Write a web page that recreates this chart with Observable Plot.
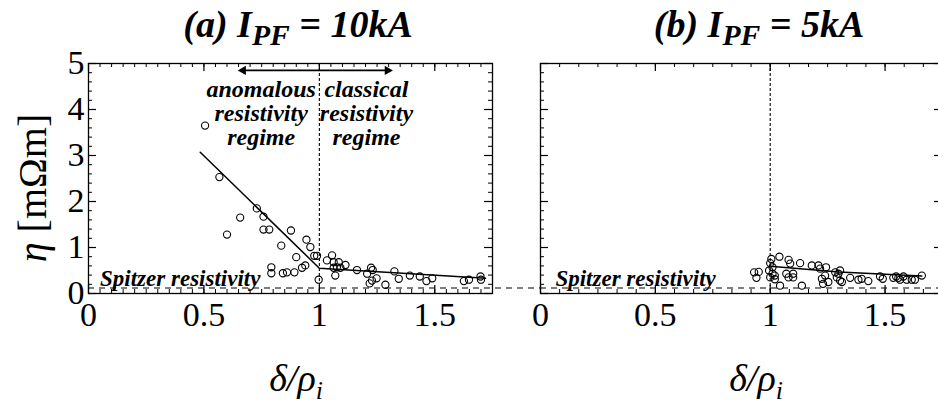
<!DOCTYPE html>
<html><head><meta charset="utf-8">
<script src="https://cdn.jsdelivr.net/npm/d3@7"></script>
<script src="https://cdn.jsdelivr.net/npm/@observablehq/plot@0.6"></script>
<style>
html,body{margin:0;padding:0;background:#fff;}
body{width:938px;height:403px;overflow:hidden;position:relative;font-family:"Liberation Serif","Times New Roman",serif;color:#000;}
.title{position:absolute;top:1px;width:400px;text-align:center;font-size:38px;line-height:46px;font-weight:bold;font-style:italic;white-space:nowrap;}
.title sub{font-size:78%;vertical-align:-0.28em;line-height:0;}
.xlab{position:absolute;top:358px;width:200px;text-align:center;font-size:38px;line-height:40px;font-style:italic;white-space:nowrap;}
.xlab sub{font-size:68%;vertical-align:-0.3em;line-height:0;}
.ylab{position:absolute;left:-92px;top:166px;width:250px;height:44px;text-align:center;font-size:40px;line-height:44px;transform:rotate(-90deg);transform-origin:50% 50%;white-space:nowrap;}
#pa{position:absolute;left:0;top:50px;width:540px;height:300px;}
#pb{position:absolute;left:538px;top:50px;width:410px;height:300px;}
#pa svg,#pb svg{max-width:none !important;display:block;}
</style></head>
<body>
<div class="title" style="left:98px">(a) I<sub>PF</sub> = 10kA</div>
<div class="title" style="left:559px">(b) I<sub>PF</sub> = 5kA</div>
<div class="ylab"><i>η</i> [mΩm]</div>
<div id="pa"></div>
<div id="pb"></div>
<div class="xlab" style="left:196px">δ/ρ<sub>i</sub></div>
<div class="xlab" style="left:656px">δ/ρ<sub>i</sub></div>
<script>
// ---- data: panel (a) I_PF = 10 kA ----
const deltaA = [0.505,0.567,0.600,0.657,0.729,0.758,0.758,0.783,0.835,0.877,0.900,0.944,0.961,0.978,0.990,0.939,0.925,0.792,0.792,0.842,0.860,0.892,0.997,1.033,1.055,1.062,1.084,1.113,1.062,1.076,1.091,1.069,1.163,1.207,1.224,1.231,1.248,1.228,1.218,1.286,1.325,1.344,1.392,1.435,1.464,1.489,1.626,1.648,1.698,1.700];
const etaA   = [3.65,2.53,1.28,1.65,1.85,1.67,1.39,1.39,1.04,1.37,0.79,1.17,1.01,0.82,0.82,0.61,0.56,0.57,0.44,0.44,0.46,0.46,0.30,0.72,0.83,0.68,0.68,0.62,0.56,0.57,0.56,0.39,0.51,0.43,0.56,0.51,0.33,0.28,0.22,0.19,0.48,0.32,0.39,0.37,0.27,0.33,0.27,0.30,0.37,0.30];
const fitDeltaA = [0.484, 1.0, 1.72];
const fitEtaA   = [3.07, 0.55, 0.33];

// ---- data: panel (b) I_PF = 5 kA ----
const deltaB = [0.930,0.950,0.940,1.005,1.000,1.010,0.995,1.010,1.000,1.020,1.040,1.043,1.020,1.080,1.087,1.070,1.100,1.100,1.080,1.138,1.130,1.181,1.210,1.217,1.243,1.225,1.230,1.253,1.239,1.283,1.297,1.304,1.290,1.304,1.312,1.348,1.384,1.398,1.427,1.478,1.490,1.536,1.548,1.558,1.580,1.594,1.616,1.565,1.660,1.630];
const etaB   = [0.46,0.47,0.34,0.75,0.66,0.57,0.50,0.43,0.35,0.39,0.80,0.17,0.31,0.73,0.65,0.43,0.43,0.35,0.35,0.17,0.66,0.61,0.61,0.54,0.57,0.32,0.21,0.25,0.39,0.46,0.43,0.50,0.35,0.28,0.25,0.34,0.30,0.32,0.27,0.37,0.32,0.34,0.37,0.34,0.37,0.30,0.30,0.30,0.39,0.30];
const fitDeltaB = [1.0, 1.3, 1.66];
const fitEtaB   = [0.59, 0.47, 0.38];

// ---- reference lines & labels ----
const spitzerEta = 0.12;
const regimeBoundary = 1.0;
const xTicks = [0, 0.5, 1, 1.5];
const yTicks = [0, 1, 2, 3, 4, 5];
const yMinor = d3.range(0, 5.001, 0.2);
const xMinorA = d3.range(0, 1.751, 0.05);
const xMinorB = d3.range(0, 1.751, 1/12);
const regimeText = ["anomalous\nresistivity\nregime", "classical\nresistivity\nregime"];
const regimeTextX = [0.748, 1.204];
const regimeTextY = [4.64, 4.64];
const arrowFrom = [1.0, 1.0];
const arrowTo = [0.67, 1.295];
const arrowDir = [-90, 90];
const arrowEta = 4.85;
const spitzerLabel = "Spitzer resistivity";
const spitzerLabelX = [0.05, 0.065];
const spitzerLabelY = 0.33;

const ptsA = deltaA.map((d, i) => ({delta: d, eta: etaA[i]}));
const ptsB = deltaB.map((d, i) => ({delta: d, eta: etaB[i]}));
const fitA = fitDeltaA.map((d, i) => ({delta: d, eta: fitEtaA[i]}));
const fitB = fitDeltaB.map((d, i) => ({delta: d, eta: fitEtaB[i]}));
const arrows = arrowTo.map((d, i) => ({from: arrowFrom[i], to: d, eta: arrowEta, rot: arrowDir[i]}));
const regime = regimeText.map((t, i) => ({text: t, delta: regimeTextX[i], eta: regimeTextY[i]}));

function panel({width, marginLeft, marginRight, points, fit, minorX, showY, spitzerTo, labelX, annotate}) {
  const height = 300, marginTop = 13, marginBottom = 57;
  const innerH = height - marginTop - marginBottom;
  const innerW = width - marginLeft - marginRight;
  const major = 8, minor = 4;
  const marks = [
    Plot.tickX(minorX, {x: d => d, insetTop: innerH - minor, strokeWidth: 1}),
    Plot.tickX(minorX, {x: d => d, insetBottom: innerH - minor, strokeWidth: 1}),
    Plot.tickX(xTicks, {x: d => d, insetTop: innerH - major, strokeWidth: 1.2}),
    Plot.tickX(xTicks, {x: d => d, insetBottom: innerH - major, strokeWidth: 1.2}),
    Plot.tickY(yMinor, {y: d => d, insetRight: innerW - minor, strokeWidth: 1}),
    Plot.tickY(yMinor, {y: d => d, insetLeft: innerW - minor, strokeWidth: 1}),
    Plot.tickY(yTicks, {y: d => d, insetRight: innerW - major, strokeWidth: 1.2}),
    Plot.tickY(yTicks, {y: d => d, insetLeft: innerW - major, strokeWidth: 1.2}),
    Plot.ruleY([{eta: spitzerEta, from: 0, to: spitzerTo}], {y: "eta", x1: "from", x2: "to", stroke: "black", strokeWidth: 1.1, strokeDasharray: "6,5"}),
    Plot.ruleX([regimeBoundary], {x: d => d, stroke: "black", strokeWidth: 1.1, strokeDasharray: "3,2"}),
    Plot.line(fit, {x: "delta", y: "eta", stroke: "black", strokeWidth: 1.5}),
    Plot.dot(points, {x: "delta", y: "eta", r: 3.6, stroke: "black", strokeWidth: 1.1, fill: "none"}),
    Plot.text([spitzerLabel], {x: () => labelX, y: () => spitzerLabelY, text: d => d, textAnchor: "start", fontSize: 23, fontWeight: "bold", fontStyle: "italic"}),
    Plot.frame({stroke: "black", strokeWidth: 1.3}),
    Plot.axisX({ticks: xTicks, tickSize: 0, tickPadding: 8, fontSize: 34, tickFormat: d => String(d), label: null})
  ];
  if (showY) marks.push(Plot.axisY({ticks: yTicks, tickSize: 0, tickPadding: 4, fontSize: 34, tickFormat: d => String(d), label: null}));
  if (annotate) {
    marks.push(Plot.link(arrows, {x1: "from", x2: "to", y1: "eta", y2: "eta", stroke: "black", strokeWidth: 1.8}));
    marks.push(Plot.dot(arrows, {x: "to", y: "eta", symbol: "triangle2", rotate: "rot", r: 4.5, fill: "black", stroke: "none"}));
    marks.push(Plot.text(regime, {x: "delta", y: "eta", text: "text", lineAnchor: "top", lineHeight: 1.0, fontSize: 24, fontWeight: "bold", fontStyle: "italic"}));
  }
  return Plot.plot({
    width, height, marginLeft, marginRight, marginTop, marginBottom,
    x: {domain: [0, 1.75], axis: null},
    y: {domain: [0, 5], axis: null},
    style: {fontFamily: "'Liberation Serif', 'Times New Roman', serif", background: "transparent", overflow: "visible", color: "black", maxWidth: "none"},
    marks
  });
}

document.getElementById("pa").append(panel({width: 540, marginLeft: 88, marginRight: 48, points: ptsA, fit: fitA, minorX: xMinorA, showY: true, spitzerTo: 1.96, labelX: spitzerLabelX[0], annotate: true}));
document.getElementById("pb").append(panel({width: 410, marginLeft: 2, marginRight: 6, points: ptsB, fit: fitB, minorX: xMinorB, showY: false, spitzerTo: 1.75, labelX: spitzerLabelX[1], annotate: false}));
</script>
</body></html>
